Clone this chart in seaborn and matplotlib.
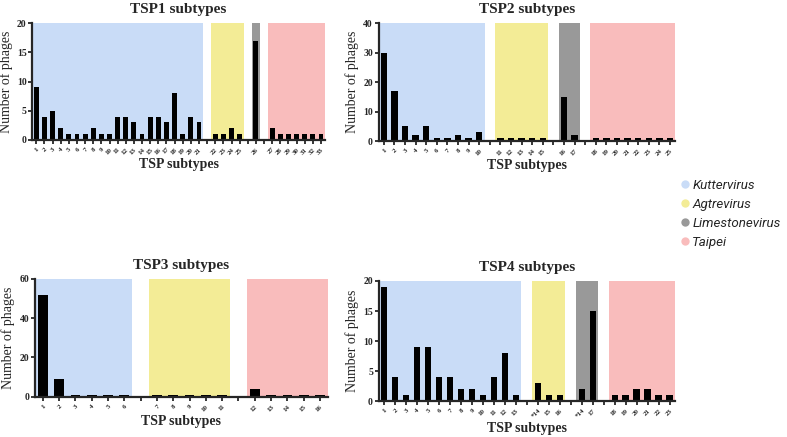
import matplotlib
matplotlib.use("Agg")
import matplotlib.pyplot as plt
from matplotlib.lines import Line2D
import seaborn as sns, pandas as pd

# genus blocks, subtype labels and phage counts per TSP
genera = ["Kuttervirus", "Agtrevirus", "Limestonevirus", "Taipei"]
genus_colors = {"Kuttervirus": "#c9dcf7", "Agtrevirus": "#f3ec96",
                "Limestonevirus": "#999999", "Taipei": "#f9bcbc"}

tsp1_genera = ["Kuttervirus", "Agtrevirus", "Limestonevirus", "Taipei"]
tsp1_labels = [[str(i) for i in range(1, 22)],
               ["22", "23", "24", "25"],
               ["26"],
               ["27", "28", "29", "30", "31", "32", "33"]]
tsp1_counts = [[9, 4, 5, 2, 1, 1, 1, 2, 1, 1, 4, 4, 3, 1, 4, 4, 3, 8, 1, 4, 3],
               [1, 1, 2, 1],
               [17],
               [2, 1, 1, 1, 1, 1, 1]]

tsp2_genera = ["Kuttervirus", "Agtrevirus", "Limestonevirus", "Taipei"]
tsp2_labels = [[str(i) for i in range(1, 11)],
               ["11", "12", "13", "14", "15"],
               ["16", "17"],
               ["18", "19", "20", "21", "22", "23", "24", "25"]]
tsp2_counts = [[30, 17, 5, 2, 5, 1, 1, 2, 1, 3],
               [1, 1, 1, 1, 1],
               [15, 2],
               [1, 1, 1, 1, 1, 1, 1, 1]]

tsp3_genera = ["Kuttervirus", "Agtrevirus", "Taipei"]
tsp3_labels = [["1", "2", "3", "4", "5", "6"],
               ["7", "8", "9", "10", "11"],
               ["12", "13", "14", "15", "16"]]
tsp3_counts = [[52, 9, 1, 1, 1, 1],
               [1, 1, 1, 1, 1],
               [4, 1, 1, 1, 1]]

tsp4_genera = ["Kuttervirus", "Agtrevirus", "Limestonevirus", "Taipei"]
tsp4_labels = [[str(i) for i in range(1, 14)],
               ["*14", "15", "16"],
               ["*14", "17"],
               ["18", "19", "20", "21", "22", "23"]]
tsp4_counts = [[19, 4, 1, 9, 9, 4, 4, 2, 2, 1, 4, 8, 1],
               [3, 1, 1],
               [2, 15],
               [1, 1, 2, 2, 1, 1]]

sns.set_style("ticks")
plt.rcParams['font.family'] = ['Liberation Serif', 'DejaVu Serif']


def panel(ax, title, blocks_genera, blocks_labels, blocks_counts, ymax, ystep):
    rows = []
    ticklabels = []
    spans = []
    pos = 0
    for k, (g, labs, cnts) in enumerate(zip(blocks_genera, blocks_labels, blocks_counts)):
        start = pos
        for lab, c in zip(labs, cnts):
            rows.append([pos, c])
            ticklabels.append(lab)
            pos += 1
        spans.append((g, start, pos - 1))
        if k < len(blocks_genera) - 1:
            ticklabels.append("")
            pos += 1
    n = pos
    df = pd.DataFrame(rows, columns=["pos", "count"])
    for g, a, b in spans:
        ax.axvspan(a - 0.5, b + 0.5, ymin=0, ymax=1, color=genus_colors[g], lw=0, zorder=0)
    sns.barplot(x="pos", y="count", data=df, order=list(range(n)), color="black",
                width=0.6, ax=ax, zorder=2, saturation=1, edgecolor="black", linewidth=0)
    ax.set_xlim(-0.5, n - 0.5)
    ax.set_ylim(0, ymax)
    ax.set_yticks(range(0, ymax + 1, ystep))
    ax.set_xticks(range(n))
    ax.set_xticklabels(ticklabels, rotation=45, fontsize=5, fontweight="bold",
                       ha="right", rotation_mode="anchor")
    for t in ax.get_yticklabels():
        t.set_fontweight("bold")
        t.set_fontsize(7)
    ax.tick_params(axis="both", width=1.3, length=3, pad=1)
    ax.tick_params(axis="x", pad=2)
    for s in ["left", "bottom"]:
        ax.spines[s].set_linewidth(1.6)
    sns.despine(ax=ax)
    ax.set_title(title, fontsize=11, fontweight="bold", pad=7)
    ax.set_xlabel("TSP subtypes", fontsize=10, fontweight="bold", labelpad=2)
    ax.set_ylabel("Number of phages", fontsize=10, labelpad=3)


f = plt.figure(figsize=(7.87, 4.37), dpi=100)
ax1 = f.add_axes([0.041, 0.680, 0.372, 0.267])
ax2 = f.add_axes([0.481, 0.677, 0.377, 0.270])
ax3 = f.add_axes([0.044, 0.092, 0.373, 0.270])
ax4 = f.add_axes([0.481, 0.082, 0.377, 0.275])

panel(ax1, "TSP1 subtypes", tsp1_genera, tsp1_labels, tsp1_counts, 20, 5)
panel(ax2, "TSP2 subtypes", tsp2_genera, tsp2_labels, tsp2_counts, 40, 10)
panel(ax3, "TSP3 subtypes", tsp3_genera, tsp3_labels, tsp3_counts, 60, 20)
panel(ax4, "TSP4 subtypes", tsp4_genera, tsp4_labels, tsp4_counts, 20, 5)

handles = [Line2D([], [], marker="o", ls="", markersize=6, markeredgewidth=0,
                  color=genus_colors[g]) for g in genera]
f.legend(handles, genera, loc="center left", bbox_to_anchor=(0.86, 0.51),
         frameon=False, handletextpad=0.15, labelspacing=0.45, handlelength=0.8,
         borderaxespad=0, borderpad=0.2,
         prop={"family": "Roboto", "style": "italic", "size": 9.6})

f.savefig("out.png", dpi=100)
